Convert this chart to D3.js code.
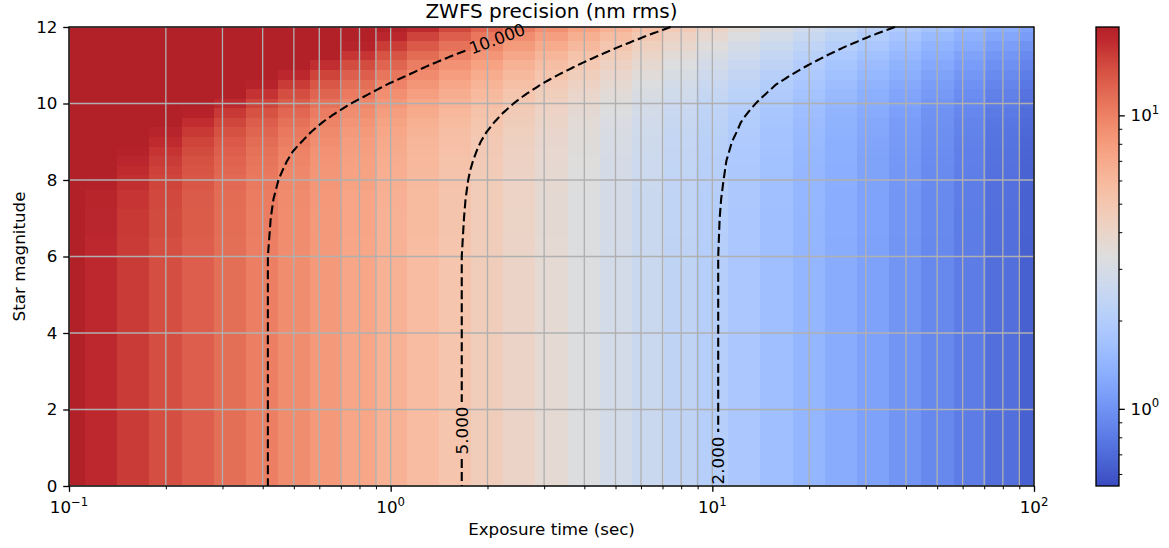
<!DOCTYPE html>
<html>
<head>
<meta charset="utf-8">
<script src="https://cdn.jsdelivr.net/npm/d3@7"></script>
<style>
  body { margin: 0; background: #fff; }
  svg { display: block; font-family: "DejaVu Sans", sans-serif; }
</style>
</head>
<body>
<svg id="chart" width="1169" height="548"></svg>
<script>
// exposure time (sec) of each column
const exposureTimes = [0.1, 0.126, 0.158, 0.2, 0.251, 0.316, 0.398, 0.501, 0.631, 0.794,
  1, 1.26, 1.58, 2, 2.51, 3.16, 3.98, 5.01, 6.31, 7.94,
  10, 12.6, 15.8, 20, 25.1, 31.6, 39.8, 50.1, 63.1, 79.4, 100];

// star magnitude of each row
const magnitudes = [0, 6, 7, 7.5, 8, 8.25, 8.5, 8.75, 9, 9.25, 9.5, 9.75,
  10, 10.25, 10.5, 10.75, 11, 11.25, 11.5, 11.75, 12];

// ZWFS precision (nm rms), one row per magnitude, one value per exposure time
const precision = [
  [20.4, 18.2, 16.2, 14.4, 12.9, 11.5, 10.2, 9.11, 8.12, 7.24, 6.45, 5.75, 5.12, 4.57, 4.07, 3.63, 3.23, 2.88, 2.57, 2.29, 2.04, 1.82, 1.62, 1.44, 1.29, 1.15, 1.02, 0.911, 0.812, 0.724, 0.645], // 0
  [20.4, 18.2, 16.2, 14.4, 12.9, 11.5, 10.2, 9.11, 8.12, 7.24, 6.45, 5.75, 5.12, 4.57, 4.07, 3.63, 3.23, 2.88, 2.57, 2.29, 2.04, 1.82, 1.62, 1.44, 1.29, 1.15, 1.02, 0.911, 0.812, 0.724, 0.645], // 6
  [20.9, 18.6, 16.5, 14.7, 13.1, 11.6, 10.3, 9.20, 8.19, 7.30, 6.50, 5.79, 5.16, 4.60, 4.09, 3.65, 3.25, 2.90, 2.59, 2.30, 2.05, 1.83, 1.63, 1.45, 1.30, 1.16, 1.03, 0.917, 0.817, 0.728, 0.649], // 7
  [21.5, 19.0, 16.8, 14.9, 13.2, 11.7, 10.4, 9.28, 8.25, 7.35, 6.54, 5.82, 5.19, 4.62, 4.12, 3.67, 3.27, 2.91, 2.59, 2.31, 2.06, 1.84, 1.64, 1.46, 1.30, 1.16, 1.03, 0.920, 0.820, 0.731, 0.651], // 7.5
  [22.6, 19.8, 17.4, 15.3, 13.6, 12.0, 10.6, 9.43, 8.37, 7.44, 6.62, 5.89, 5.24, 4.66, 4.15, 3.70, 3.29, 2.93, 2.61, 2.33, 2.08, 1.85, 1.65, 1.46, 1.31, 1.17, 1.04, 0.926, 0.826, 0.736, 0.656], // 8
  [23.4, 20.4, 17.9, 15.7, 13.8, 12.2, 10.8, 9.55, 8.47, 7.52, 6.67, 5.93, 5.28, 4.69, 4.18, 3.72, 3.31, 2.95, 2.63, 2.34, 2.09, 1.86, 1.66, 1.47, 1.32, 1.18, 1.04, 0.930, 0.829, 0.739, 0.659], // 8.25
  [24.7, 21.3, 18.6, 16.2, 14.2, 12.5, 11.0, 9.72, 8.60, 7.62, 6.76, 6.00, 5.33, 4.74, 4.22, 3.75, 3.34, 2.97, 2.65, 2.36, 2.10, 1.87, 1.67, 1.48, 1.33, 1.18, 1.05, 0.937, 0.835, 0.745, 0.663], // 8.5
  [26.3, 22.6, 19.5, 16.9, 14.7, 12.9, 11.3, 9.95, 8.78, 7.76, 6.87, 6.09, 5.40, 4.80, 4.26, 3.79, 3.37, 3.00, 2.67, 2.38, 2.12, 1.89, 1.68, 1.49, 1.34, 1.19, 1.06, 0.944, 0.842, 0.751, 0.669], // 8.75
  [28.5, 24.3, 20.8, 17.9, 15.4, 13.4, 11.7, 10.3, 9.02, 7.94, 7.01, 6.20, 5.50, 4.87, 4.33, 3.84, 3.42, 3.04, 2.71, 2.41, 2.14, 1.91, 1.70, 1.52, 1.35, 1.20, 1.07, 0.954, 0.850, 0.758, 0.675], // 9
  [31.5, 26.5, 22.5, 19.1, 16.4, 14.2, 12.3, 10.7, 9.35, 8.20, 7.21, 6.36, 5.62, 4.98, 4.41, 3.92, 3.48, 3.09, 2.75, 2.44, 2.18, 1.94, 1.72, 1.54, 1.37, 1.22, 1.08, 0.966, 0.861, 0.768, 0.684], // 9.25
  [35.4, 29.5, 24.7, 20.9, 17.7, 15.2, 13.0, 11.3, 9.80, 8.55, 7.49, 6.58, 5.80, 5.12, 4.53, 4.01, 3.56, 3.16, 2.80, 2.49, 2.22, 1.97, 1.76, 1.56, 1.39, 1.24, 1.10, 0.983, 0.876, 0.781, 0.696], // 9.5
  [40.3, 33.3, 27.7, 23.1, 19.5, 16.5, 14.1, 12.1, 10.4, 9.02, 7.85, 6.87, 6.03, 5.30, 4.68, 4.13, 3.66, 3.24, 2.88, 2.56, 2.27, 2.02, 1.80, 1.60, 1.42, 1.27, 1.13, 1.00, 0.895, 0.798, 0.711], // 9.75
  [46.6, 38.2, 31.4, 26.1, 21.7, 18.2, 15.4, 13.1, 11.2, 9.64, 8.34, 7.25, 6.33, 5.55, 4.88, 4.30, 3.79, 3.36, 2.97, 2.64, 2.34, 2.08, 1.85, 1.65, 1.46, 1.30, 1.16, 1.03, 0.920, 0.820, 0.731], // 10
  [54.5, 44.3, 36.2, 29.8, 24.6, 20.5, 17.1, 14.4, 12.3, 10.5, 8.98, 7.76, 6.73, 5.87, 5.14, 4.51, 3.97, 3.50, 3.10, 2.74, 2.43, 2.16, 1.92, 1.70, 1.52, 1.35, 1.20, 1.07, 0.951, 0.847, 0.755], // 10.25
  [64.2, 52.0, 42.2, 34.5, 28.3, 23.3, 19.4, 16.2, 13.6, 11.5, 9.82, 8.42, 7.26, 6.29, 5.47, 4.78, 4.20, 3.69, 3.26, 2.88, 2.55, 2.26, 2.00, 1.78, 1.58, 1.40, 1.25, 1.11, 0.990, 0.882, 0.785], // 10.5
  [76.2, 61.4, 49.7, 40.3, 32.9, 26.9, 22.2, 18.4, 15.4, 12.9, 10.9, 9.26, 7.93, 6.83, 5.91, 5.14, 4.49, 3.93, 3.46, 3.05, 2.69, 2.38, 2.11, 1.87, 1.66, 1.48, 1.31, 1.17, 1.04, 0.925, 0.824], // 10.75
  [90.8, 73.0, 58.8, 47.5, 38.6, 31.4, 25.7, 21.2, 17.5, 14.6, 12.3, 10.3, 8.79, 7.52, 6.46, 5.59, 4.86, 4.24, 3.71, 3.26, 2.87, 2.54, 2.25, 1.99, 1.76, 1.57, 1.39, 1.24, 1.10, 0.978, 0.871], // 11
  [109, 87.1, 70.0, 56.4, 45.6, 36.9, 30.1, 24.6, 20.3, 16.8, 14.0, 11.7, 9.87, 8.38, 7.16, 6.16, 5.32, 4.62, 4.03, 3.53, 3.10, 2.73, 2.41, 2.13, 1.89, 1.67, 1.49, 1.32, 1.17, 1.04, 0.929], // 11.25
  [130, 104, 83.7, 67.2, 54.2, 43.7, 35.5, 28.9, 23.6, 19.4, 16.1, 13.4, 11.2, 9.47, 8.04, 6.87, 5.90, 5.10, 4.43, 3.86, 3.38, 2.97, 2.62, 2.31, 2.04, 1.81, 1.60, 1.42, 1.27, 1.12, 1.00], // 11.5
  [157, 125, 100, 80.4, 64.6, 52.0, 42.1, 34.1, 27.8, 22.7, 18.7, 15.5, 12.9, 10.8, 9.12, 7.74, 6.62, 5.69, 4.92, 4.27, 3.73, 3.26, 2.87, 2.53, 2.23, 1.97, 1.75, 1.55, 1.38, 1.22, 1.09], // 11.75
  [189, 151, 121, 96.4, 77.3, 62.2, 50.1, 40.5, 32.9, 26.8, 21.9, 18.1, 15.0, 12.5, 10.5, 8.83, 7.50, 6.42, 5.52, 4.78, 4.15, 3.62, 3.17, 2.79, 2.46, 2.17, 1.92, 1.70, 1.51, 1.34, 1.19]  // 12
];

const contourLevels = [10, 5, 2];
const colorRange = [0.546, 20];
const xMajorTicks = [0.1, 1, 10, 100];
const xTickExponents = ["\u22121", "0", "1", "2"];
const yTicks = [0, 2, 4, 6, 8, 10, 12];
const cbMajorTicks = [1, 10];
const cbTickExponents = ["0", "1"];

// coolwarm, top end toned as it shows in the reference
const coolwarm = ["rgb(59,76,192)", "rgb(68,90,204)", "rgb(77,104,215)", "rgb(87,117,225)", "rgb(98,130,234)",
  "rgb(108,142,241)", "rgb(119,154,247)", "rgb(130,165,251)", "rgb(141,176,254)", "rgb(152,185,255)",
  "rgb(163,194,255)", "rgb(174,201,253)", "rgb(184,208,249)", "rgb(194,213,244)", "rgb(204,217,238)",
  "rgb(213,219,230)", "rgb(221,221,221)", "rgb(229,216,209)", "rgb(236,211,197)", "rgb(241,204,185)",
  "rgb(245,196,173)", "rgb(247,187,160)", "rgb(247,177,148)", "rgb(247,166,135)", "rgb(244,154,123)",
  "rgb(241,141,111)", "rgb(236,127,99)", "rgb(229,112,88)", "rgb(222,96,77)", "rgb(213,80,66)",
  "rgb(203,62,56)", "rgb(191,42,47)", "rgb(178,32,40)"];

// where each contour label goes: [exposure time, magnitude]
const labelSpots = { 10: [2.15, 11.65], 5: [1.66, 1.45], 2: [10.4, 0.65] };

const plot = { left: 69, right: 1034, top: 27, bottom: 486 };
const fontSize = 16.7;

const svg = d3.select("#chart");
const x = d3.scaleLog().domain([0.1, 100]).range([plot.left, plot.right]);
const y = d3.scaleLinear().domain([0, 12]).range([plot.bottom, plot.top]);

const norm = d3.scaleLog().domain(colorRange).range([0, 1]).clamp(true);
const cmap = d3.scaleLinear()
  .domain(d3.range(coolwarm.length).map(i => i / (coolwarm.length - 1)))
  .range(coolwarm)
  .interpolate(d3.interpolateRgb)
  .clamp(true);
const color = v => cmap(norm(v));

const nx = exposureTimes.length;
const ny = magnitudes.length;

// cell edges halfway between neighbouring samples
const xEdges = [exposureTimes[0]];
for (let i = 1; i < nx; i++) xEdges.push(Math.sqrt(exposureTimes[i - 1] * exposureTimes[i]));
xEdges.push(exposureTimes[nx - 1]);
const yEdges = [magnitudes[0]];
for (let j = 1; j < ny; j++) yEdges.push((magnitudes[j - 1] + magnitudes[j]) / 2);
yEdges.push(magnitudes[ny - 1]);

// heat map
const cells = [];
precision.forEach((row, j) => row.forEach((v, i) => cells.push({ i, j, v })));

svg.append("g")
  .selectAll("rect")
  .data(cells)
  .join("rect")
  .attr("x", d => x(xEdges[d.i]))
  .attr("width", d => x(xEdges[d.i + 1]) - x(xEdges[d.i]))
  .attr("y", d => y(yEdges[d.j + 1]))
  .attr("height", d => y(yEdges[d.j]) - y(yEdges[d.j + 1]))
  .attr("fill", d => color(d.v))
  .attr("shape-rendering", "crispEdges");

// grid (major + minor on x, major on y)
const xMinorTicks = [];
[0.1, 1, 10].forEach(dec => d3.range(2, 10).forEach(k => xMinorTicks.push(k * dec)));

const grid = svg.append("g")
  .attr("stroke", "#b0b0b0")
  .attr("stroke-width", 1.33);
grid.selectAll(".vx")
  .data(xMajorTicks.concat(xMinorTicks))
  .join("line")
  .attr("x1", d => x(d)).attr("x2", d => x(d))
  .attr("y1", plot.top).attr("y2", plot.bottom);
grid.selectAll(".hy")
  .data(yTicks)
  .join("line")
  .attr("x1", plot.left).attr("x2", plot.right)
  .attr("y1", d => y(d)).attr("y2", d => y(d));

// contours
const contours = d3.contours()
  .size([nx, ny])
  .thresholds(contourLevels)(precision.flat());

function gridToPixel(p) {
  const fi = Math.max(0, Math.min(nx - 1, p[0] - 0.5));
  const fj = Math.max(0, Math.min(ny - 1, p[1] - 0.5));
  const i0 = Math.min(nx - 2, Math.floor(fi)), a = fi - i0;
  const j0 = Math.min(ny - 2, Math.floor(fj)), b = fj - j0;
  const lt = Math.log10(exposureTimes[i0]) * (1 - a) + Math.log10(exposureTimes[i0 + 1]) * a;
  const m = magnitudes[j0] * (1 - b) + magnitudes[j0 + 1] * b;
  return [x(Math.pow(10, lt)), y(m)];
}

// keep the iso-lines, drop the pieces that run along the grid border
function isolines(geom) {
  const lines = [];
  const onEdge = p => p[0] <= 0 || p[0] >= nx || p[1] <= 0 || p[1] >= ny;
  geom.coordinates.forEach(poly => poly.forEach(ring => {
    const start = ring.findIndex(onEdge);
    if (start < 0) { lines.push(ring.map(gridToPixel)); return; }
    let cur = [];
    for (let k = 0; k < ring.length; k++) {
      const p = ring[(start + k) % ring.length];
      if (onEdge(p)) {
        if (cur.length > 1) lines.push(cur);
        cur = [];
      } else {
        cur.push(gridToPixel(p));
      }
    }
    if (cur.length > 1) lines.push(cur);
  }));
  return lines;
}

function densify(pts, step) {
  const out = [pts[0]];
  for (let k = 1; k < pts.length; k++) {
    const [x0, y0] = pts[k - 1], [x1, y1] = pts[k];
    const n = Math.max(1, Math.ceil(Math.hypot(x1 - x0, y1 - y0) / step));
    for (let s = 1; s <= n; s++) out.push([x0 + (x1 - x0) * s / n, y0 + (y1 - y0) * s / n]);
  }
  return out;
}

function cutGap(lines, c, r) {
  const out = [];
  lines.forEach(line => {
    let cur = [];
    line.forEach(p => {
      if (Math.hypot(p[0] - c[0], p[1] - c[1]) < r) {
        if (cur.length > 1) out.push(cur);
        cur = [];
      } else cur.push(p);
    });
    if (cur.length > 1) out.push(cur);
  });
  return out;
}

const contourG = svg.append("g");
const labelG = svg.append("g");
const fmt = d3.format(".3f");
const line = d3.line();

contours.forEach(c => {
  let lines = isolines(c).map(l => densify(l, 1.5));
  const spot = labelSpots[c.value];
  if (spot) {
    const target = [x(spot[0]), y(spot[1])];
    let best = null, bestD = Infinity;
    lines.forEach(l => l.forEach((p, k) => {
      const d = Math.hypot(p[0] - target[0], p[1] - target[1]);
      if (d < bestD) { bestD = d; best = { l, k }; }
    }));
    if (best) {
      const p = best.l[best.k];
      const pa = best.l[Math.max(0, best.k - 6)];
      const pb = best.l[Math.min(best.l.length - 1, best.k + 6)];
      let ang = Math.atan2(pb[1] - pa[1], pb[0] - pa[0]) * 180 / Math.PI;
      while (ang > 80) ang -= 180;
      while (ang < -100) ang += 180;
      const txt = labelG.append("text")
        .attr("transform", `translate(${p[0]},${p[1]}) rotate(${ang})`)
        .attr("text-anchor", "middle")
        .attr("dominant-baseline", "central")
        .attr("font-size", fontSize)
        .attr("fill", "#000")
        .text(fmt(c.value));
      const half = txt.node().getComputedTextLength() / 2;
      lines = cutGap(lines, p, half + 4);
    }
  }
  contourG.selectAll(null)
    .data(lines)
    .join("path")
    .attr("d", line)
    .attr("fill", "none")
    .attr("stroke", "#000")
    .attr("stroke-width", 2.1)
    .attr("stroke-dasharray", "9,4");
});

// frame
svg.append("rect")
  .attr("x", plot.left).attr("y", plot.top)
  .attr("width", plot.right - plot.left).attr("height", plot.bottom - plot.top)
  .attr("fill", "none").attr("stroke", "#000").attr("stroke-width", 1.33);

// x axis ticks
const xAxisMajor = svg.append("g")
  .attr("transform", `translate(0,${plot.bottom})`)
  .call(d3.axisBottom(x).tickValues(xMajorTicks).tickSize(5.8).tickSizeOuter(0).tickFormat(""));
const xAxisMinor = svg.append("g")
  .attr("transform", `translate(0,${plot.bottom})`)
  .call(d3.axisBottom(x).tickValues(xMinorTicks).tickSize(3.3).tickSizeOuter(0).tickFormat(""));
[xAxisMajor, xAxisMinor].forEach(g => {
  g.select(".domain").remove();
  g.selectAll(".tick line").attr("stroke", "#000").attr("stroke-width", 1.33);
});
xAxisMinor.selectAll(".tick line").attr("stroke-width", 1);

xMajorTicks.forEach((v, i) => {
  const t = svg.append("text")
    .attr("x", x(v)).attr("y", 513)
    .attr("text-anchor", "middle")
    .attr("font-size", fontSize)
    .attr("fill", "#000");
  t.append("tspan").text("10");
  t.append("tspan").attr("dy", -7.5).attr("font-size", 11.7).text(xTickExponents[i]);
});

// y axis
const yAxis = svg.append("g")
  .attr("transform", `translate(${plot.left},0)`)
  .call(d3.axisLeft(y).tickValues(yTicks).tickSize(5.8).tickPadding(5.8).tickSizeOuter(0));
yAxis.select(".domain").remove();
yAxis.selectAll(".tick line").attr("stroke", "#000").attr("stroke-width", 1.33);
yAxis.selectAll(".tick text")
  .attr("font-size", fontSize)
  .attr("font-family", "DejaVu Sans")
  .attr("fill", "#000");

// labels and title
svg.append("text")
  .attr("x", (plot.left + plot.right) / 2).attr("y", 535)
  .attr("text-anchor", "middle").attr("font-size", fontSize).attr("fill", "#000")
  .text("Exposure time (sec)");
svg.append("text")
  .attr("transform", `translate(25,${(plot.top + plot.bottom) / 2}) rotate(-90)`)
  .attr("text-anchor", "middle").attr("font-size", fontSize).attr("fill", "#000")
  .text("Star magnitude");
svg.append("text")
  .attr("x", (plot.left + plot.right) / 2).attr("y", 18)
  .attr("text-anchor", "middle").attr("font-size", 20).attr("fill", "#000")
  .text("ZWFS precision (nm rms)");

// colour bar
const cb = { x: 1096, w: 23 };
const cy = d3.scaleLog().domain(colorRange).range([plot.bottom, plot.top]);
svg.append("g")
  .selectAll("rect")
  .data(d3.range(plot.top, plot.bottom))
  .join("rect")
  .attr("x", cb.x).attr("width", cb.w)
  .attr("y", d => d).attr("height", 1.2)
  .attr("fill", d => cmap(norm(cy.invert(d + 0.5))))
  .attr("shape-rendering", "crispEdges");
svg.append("rect")
  .attr("x", cb.x).attr("y", plot.top)
  .attr("width", cb.w).attr("height", plot.bottom - plot.top)
  .attr("fill", "none").attr("stroke", "#000").attr("stroke-width", 1.33);

const cbMinorTicks = [0.6, 0.7, 0.8, 0.9, 2, 3, 4, 5, 6, 7, 8, 9];
const cbAxisMajor = svg.append("g")
  .attr("transform", `translate(${cb.x + cb.w},0)`)
  .call(d3.axisRight(cy).tickValues(cbMajorTicks).tickSize(5.8).tickSizeOuter(0).tickFormat(""));
const cbAxisMinor = svg.append("g")
  .attr("transform", `translate(${cb.x + cb.w},0)`)
  .call(d3.axisRight(cy).tickValues(cbMinorTicks).tickSize(3.3).tickSizeOuter(0).tickFormat(""));
[cbAxisMajor, cbAxisMinor].forEach(g => {
  g.select(".domain").remove();
  g.selectAll(".tick line").attr("stroke", "#000").attr("stroke-width", 1.33);
});
cbAxisMinor.selectAll(".tick line").attr("stroke-width", 1);

cbMajorTicks.forEach((v, i) => {
  const t = svg.append("text")
    .attr("x", cb.x + cb.w + 11.6).attr("y", cy(v) + 6)
    .attr("font-size", fontSize)
    .attr("fill", "#000");
  t.append("tspan").text("10");
  t.append("tspan").attr("dy", -7.5).attr("font-size", 11.7).text(cbTickExponents[i]);
});
</script>
</body>
</html>
